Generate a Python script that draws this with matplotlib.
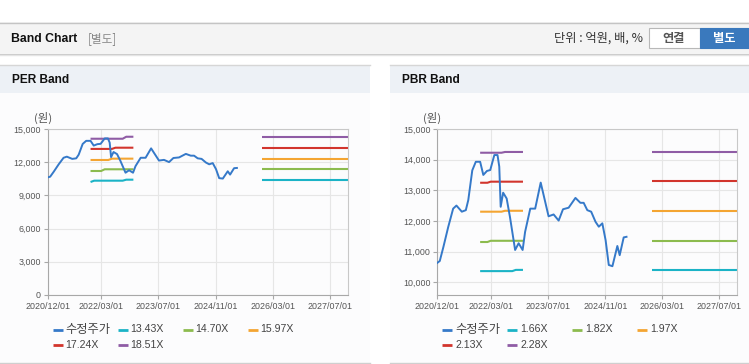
import matplotlib
matplotlib.use('Agg')
import matplotlib.pyplot as plt
import matplotlib.dates as mdates
from matplotlib.patches import Rectangle
from matplotlib.lines import Line2D
import numpy as np
import pandas as pd

# ---------------- data ----------------
price_label = '수정주가'
price_dates = ['2020-12-01', '2020-12-22', '2021-01-22', '2021-03-04', '2021-04-15', '2021-05-13',
               '2021-06-28', '2021-08-01', '2021-08-22', '2021-09-25', '2021-10-25', '2021-12-01',
               '2021-12-28', '2022-01-28', '2022-02-25', '2022-04-01', '2022-04-28', '2022-05-13',
               '2022-05-25', '2022-06-15', '2022-07-15', '2022-08-12', '2022-09-25', '2022-10-25',
               '2022-11-28', '2022-12-19', '2023-02-01', '2023-03-15', '2023-05-01', '2023-07-07',
               '2023-08-19', '2023-10-01', '2023-11-07', '2023-12-25', '2024-02-21', '2024-04-03',
               '2024-05-01', '2024-06-01', '2024-07-04', '2024-08-10', '2024-09-07', '2024-10-07',
               '2024-11-04', '2024-12-01', '2025-01-01', '2025-02-12', '2025-03-04', '2025-04-07',
               '2025-05-01']
price_values = [10630, 10690, 11150, 11800, 12400, 12500,
                12300, 12350, 12680, 13650, 13930, 13930,
                13500, 13630, 13660, 14150, 14150, 13770,
                12460, 12920, 12730, 12130, 11050, 11270,
                11050, 11640, 12400, 12400, 13250, 12150,
                12210, 12010, 12380, 12430, 12750, 12590,
                12590, 12350, 12300, 11970, 11810, 11920,
                11370, 10560, 10520, 11180, 10880, 11460,
                11480]

band_left_dates = ['2021-12-01', '2022-01-01', '2022-02-01', '2022-03-01', '2022-04-01', '2022-05-01',
                   '2022-06-01', '2022-07-01', '2022-08-01', '2022-09-01', '2022-10-01', '2022-11-01',
                   '2022-12-01']
band_right_dates = ['2025-12-01', '2027-12-01']

per_labels = ['13.43X', '14.70X', '15.97X', '17.24X', '18.51X']
per_left = [
    [10210, 10330, 10330, 10330, 10330, 10330, 10330, 10330, 10330, 10330, 10420, 10420, 10420],
    [11205, 11205, 11205, 11205, 11360, 11360, 11360, 11360, 11360, 11360, 11360, 11360, 11360],
    [12200, 12200, 12200, 12200, 12200, 12200, 12320, 12320, 12320, 12320, 12320, 12320, 12320],
    [13200, 13200, 13200, 13200, 13200, 13200, 13200, 13310, 13310, 13310, 13310, 13310, 13310],
    [14120, 14120, 14120, 14120, 14120, 14120, 14120, 14120, 14120, 14120, 14300, 14300, 14300],
]
per_right = [10420, 11420, 12290, 13280, 14300]

pbr_labels = ['1.66X', '1.82X', '1.97X', '2.13X', '2.28X']
pbr_left = [
    [10360, 10360, 10360, 10360, 10360, 10360, 10360, 10360, 10360, 10360, 10400, 10400, 10400],
    [11310, 11310, 11310, 11350, 11350, 11350, 11350, 11350, 11350, 11350, 11350, 11350, 11350],
    [12300, 12300, 12300, 12300, 12300, 12300, 12300, 12330, 12330, 12330, 12330, 12330, 12330],
    [13245, 13245, 13245, 13280, 13280, 13280, 13280, 13280, 13280, 13280, 13280, 13280, 13280],
    [14225, 14225, 14225, 14225, 14225, 14225, 14225, 14250, 14250, 14250, 14250, 14250, 14250],
]
pbr_right = [10390, 11340, 12320, 13310, 14255]

x_ticks = ['2020-12-01', '2022-03-01', '2023-07-01', '2024-11-01', '2026-03-01', '2027-07-01']
x_range = ['2020-12-01', '2027-12-01']
per_yticks = [0, 3000, 6000, 9000, 12000, 15000]
pbr_yticks = [10000, 11000, 12000, 13000, 14000, 15000]

price_color = '#3579c9'
band_colors = ['#1bb3c6', '#8cbb4e', '#f4a532', '#d2352d', '#8f5ca5']

# ---------------- layout helpers ----------------
W, H = 749, 364
fig = plt.figure(figsize=(W / 100, H / 100), dpi=100)
fig.patch.set_facecolor('white')
FONT = ['Liberation Sans', 'Noto Sans CJK KR', 'DejaVu Sans']
KFONT = ['Noto Sans CJK KR', 'DejaVu Sans']


def rect(x0, y0, x1, y1, **kw):
    kw.setdefault('zorder', -5)
    r = Rectangle((x0 / W, 1 - y1 / H), (x1 - x0) / W, (y1 - y0) / H,
                  transform=fig.transFigure, **kw)
    fig.add_artist(r)


def hline(x0, x1, y, color, lw=1.0):
    fig.add_artist(Line2D([x0 / W, x1 / W], [1 - y / H, 1 - y / H], transform=fig.transFigure,
                          color=color, lw=lw, zorder=-4))


def text(x, y, s, **kw):
    fig.text(x / W, 1 - y / H, s, **kw)


# header
rect(0, 22, W, 53, facecolor='#f4f4f4', edgecolor='none')
hline(0, W, 22.5, '#c4c4c4')
hline(0, W, 53.5, '#c8c8c8')
hline(0, W, 54.5, '#e4e4e4')
text(11, 38.5, 'Band Chart', family=FONT, weight='bold', fontsize=8.8, color='#111', va='center')
text(88, 38.5, '[별도]', family=KFONT, fontsize=8.4, color='#888', va='center')
text(643, 38.5, '단위 : 억원, 배, %', family=KFONT, fontsize=8.8, color='#333', va='center', ha='right')
rect(648.5, 28.5, 700, 47.5, facecolor='white', edgecolor='#b8b8b8', lw=0.8)
rect(700, 28.5, 749, 47.5, facecolor='#3a79bd', edgecolor='#3a79bd', lw=0.8)
text(674, 38.5, '연결', family=KFONT, weight='bold', fontsize=8.8, color='#555', va='center', ha='center')
text(724.5, 38.5, '별도', family=KFONT, weight='bold', fontsize=8.8, color='white', va='center', ha='center')

# panels
panels = [(0, 370, 'PER Band'), (390, 749, 'PBR Band')]
for px0, px1, title in panels:
    rect(px0, 65, px1, 93, facecolor='#edf1f6', edgecolor='none')
    rect(px0, 93, px1, 363, facecolor='#fcfcfd', edgecolor='none')
    hline(px0, px1, 64.5, '#d6d6d6')
    hline(px0, px1, 363.2, '#cfcfcf')
    text(px0 + 11.5, 80, title, family=FONT, weight='bold', fontsize=8.6, color='#111', va='center')


def make_axes(left_px, ymin, yticks, labels, lefts, rights):
    top, bottom, right_px = 129, 295, left_px + 300
    ax = fig.add_axes([left_px / W, 1 - bottom / H, (right_px - left_px) / W, (bottom - top) / H])
    ax.set_facecolor('none')
    ax.set_xlim(pd.to_datetime(x_range[0]), pd.to_datetime(x_range[1]))
    ax.set_ylim(ymin, 15000)
    ax.set_xticks(pd.to_datetime(x_ticks))
    ax.xaxis.set_major_formatter(mdates.DateFormatter('%Y/%m/%d'))
    ax.set_yticks(yticks)
    ax.set_yticklabels([f'{v:,}' for v in yticks])
    ax.grid(True, color='#e6e6e6', lw=0.8)
    ax.set_axisbelow(True)
    for s in ['left', 'bottom']:
        ax.spines[s].set_color('#a8a8a8')
    for s in ['top', 'right']:
        ax.spines[s].set_color('#c8c8c8')
    ax.tick_params(axis='both', length=3, width=0.8, color='#a8a8a8', labelcolor='#555',
                   labelsize=6.4, pad=2)
    for lab in ax.get_xticklabels() + ax.get_yticklabels():
        lab.set_family(FONT)
    # bands
    ld = pd.to_datetime(band_left_dates)
    rd = pd.to_datetime(band_right_dates)
    for vals, rv, c in zip(lefts, rights, band_colors):
        ax.plot(ld, vals, color=c, lw=1.5, solid_capstyle='butt', clip_on=False)
        ax.plot(rd, [rv, rv], color=c, lw=1.5, solid_capstyle='butt', clip_on=False)
    ax.plot(pd.to_datetime(price_dates), price_values, color=price_color, lw=1.4, zorder=5,
            solid_joinstyle='round')
    # (원)
    text(left_px - 5, 118, '(원)', family=KFONT, fontsize=8.2, color='#555', va='center', ha='center')
    # legend
    all_labels = [price_label] + labels
    all_colors = [price_color] + band_colors
    for i, (lab, c) in enumerate(zip(all_labels, all_colors)):
        col, row = i % 4, i // 4
        lx = left_px + 5 + col * 65
        ly = 329.5 + row * 15
        fig.add_artist(Line2D([lx / W, (lx + 10) / W], [1 - ly / H, 1 - ly / H],
                              transform=fig.transFigure, color=c, lw=2, solid_capstyle='butt'))
        fs = 8.8 if i == 0 else 7.6
        text(lx + 13, ly, lab, family=FONT, fontsize=fs, color='#444', va='center')
    return ax


make_axes(47.7, 0, per_yticks, per_labels, per_left, per_right)
make_axes(437.3, 9580, pbr_yticks, pbr_labels, pbr_left, pbr_right)

fig.savefig('out.png', dpi=100, facecolor='white')
